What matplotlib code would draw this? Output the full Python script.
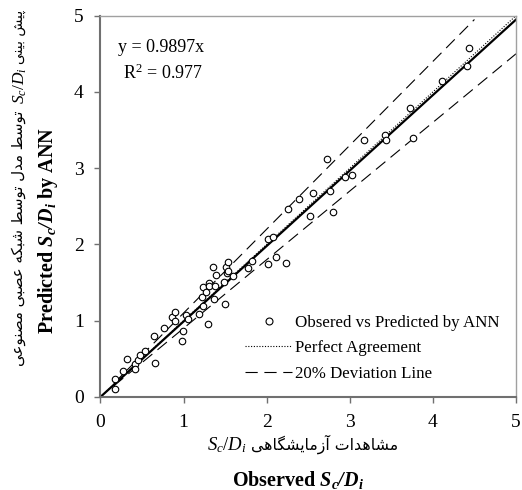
import matplotlib
matplotlib.use('Agg')
import matplotlib.pyplot as plt
from matplotlib.lines import Line2D

# observed vs predicted Sc/Di
observed = [0.17, 0.17, 0.27, 0.32, 0.41, 0.42, 0.45, 0.48, 0.53, 0.64, 0.65,
            0.77, 0.86, 0.90, 0.90, 0.98, 0.99, 1.03, 1.05, 1.19, 1.23, 1.22,
            1.23, 1.27, 1.29, 1.30, 1.31, 1.35, 1.37, 1.38, 1.39, 1.49, 1.50,
            1.51, 1.53, 1.52, 1.54, 1.59, 1.77, 1.82, 2.01, 2.01, 2.08, 2.11,
            2.23, 2.26, 2.39, 2.52, 2.56, 2.76, 2.80, 2.72, 2.94, 3.03, 3.17,
            3.42, 3.43, 3.72, 3.76, 4.11, 4.41, 4.43]
predicted = [0.24, 0.11, 0.34, 0.50, 0.43, 0.36, 0.49, 0.55, 0.60, 0.80, 0.45,
             0.91, 1.05, 1.11, 1.00, 0.73, 0.87, 1.08, 1.02, 1.09, 1.19, 1.31,
             1.44, 1.38, 0.95, 1.49, 1.45, 1.71, 1.28, 1.46, 1.60, 1.51, 1.22,
             1.71, 1.77, 1.63, 1.65, 1.58, 1.69, 1.78, 2.07, 1.74, 2.10, 1.83,
             1.76, 2.47, 2.59, 2.37, 2.67, 2.70, 2.42, 3.12, 2.89, 2.91, 3.37,
             3.44, 3.37, 3.79, 3.40, 4.14, 4.34, 4.58]

fit_slope = 0.9897
r_squared = 0.977
fit_range = [0, 5]
perfect_range = [0, 5]
upper_factor, upper_range = 1.1, [0.16, 4.5]
lower_factor, lower_range = 0.9, [0.16, 5.0]
ticks = [0, 1, 2, 3, 4, 5]

# contextual forms for the Persian letters used (isolated, final, initial, medial)
FORMS = {
    'ا': '\uFE8D\uFE8E', 'آ': '\uFE81\uFE82', 'د': '\uFEA9\uFEAA',
    'ز': '\uFEAF\uFEB0', 'و': '\uFEED\uFEEE',
    'ب': '\uFE8F\uFE90\uFE91\uFE92', 'پ': '\uFB56\uFB57\uFB58\uFB59',
    'ت': '\uFE95\uFE96\uFE97\uFE98', 'س': '\uFEB1\uFEB2\uFEB3\uFEB4',
    'ش': '\uFEB5\uFEB6\uFEB7\uFEB8', 'ص': '\uFEB9\uFEBA\uFEBB\uFEBC',
    'ط': '\uFEC1\uFEC2\uFEC3\uFEC4', 'ع': '\uFEC9\uFECA\uFECB\uFECC',
    'ک': '\uFB8E\uFB8F\uFB90\uFB91', 'گ': '\uFB92\uFB93\uFB94\uFB95',
    'ل': '\uFEDD\uFEDE\uFEDF\uFEE0', 'م': '\uFEE1\uFEE2\uFEE3\uFEE4',
    'ن': '\uFEE5\uFEE6\uFEE7\uFEE8', 'ه': '\uFEE9\uFEEA\uFEEB\uFEEC',
    'ی': '\uFBFC\uFBFD\uFBFE\uFBFF',
}


def farsi(text):
    out = []
    for i, ch in enumerate(text):
        f = FORMS.get(ch)
        if f is None:
            out.append(ch)
            continue
        prev = text[i - 1] if i > 0 else ''
        nxt = text[i + 1] if i + 1 < len(text) else ''
        joins_prev = prev in FORMS and len(FORMS[prev]) == 4
        joins_next = len(f) == 4 and nxt in FORMS
        out.append(f[int(joins_prev) + 2 * int(joins_next)])
    return ''.join(reversed(out))


plt.rcParams['font.family'] = ['Liberation Serif', 'DejaVu Sans']
plt.rcParams['mathtext.fontset'] = 'custom'
plt.rcParams['mathtext.rm'] = 'Liberation Serif'
plt.rcParams['mathtext.it'] = 'Liberation Serif:italic'
plt.rcParams['mathtext.bf'] = 'Liberation Serif:bold'
plt.rcParams['mathtext.bfit'] = 'Liberation Serif:italic:bold'

fig = plt.figure(figsize=(5.22, 4.9), dpi=100)
ax = fig.add_axes([0.1925, 0.19, 0.796, 0.778])

ax.plot(perfect_range, perfect_range, color='black', lw=0.8, ls=(0, (1, 1.5)))
ax.plot(fit_range, [fit_slope * v for v in fit_range], color='black', lw=1.6)
ax.plot(upper_range, [upper_factor * v for v in upper_range], color='black',
        lw=0.8, ls=(0, (11, 6)))
ax.plot(lower_range, [lower_factor * v for v in lower_range], color='black',
        lw=0.8, ls=(0, (11, 6)))
ax.scatter(observed, predicted, s=22, facecolors='white', edgecolors='black',
           linewidths=0.8, zorder=3)

ax.set_xlim(0, 5)
ax.set_ylim(0, 5)
ax.set_xticks(ticks)
ax.set_yticks(ticks)
ax.tick_params(direction='out', length=4, width=1, labelsize=14,
               color='#707070', pad=8)
for side in ['left', 'bottom']:
    ax.spines[side].set_color('#707070')
    ax.spines[side].set_linewidth(1.5)
for side in ['top', 'right']:
    ax.spines[side].set_color('#a0a0a0')
    ax.spines[side].set_linewidth(1.0)

ax.text(0.21, 4.58, 'y = %.4fx' % fit_slope, fontsize=13, va='center')
ax.text(0.27, 4.24, 'R$^{2}$ = %.3f' % r_squared, fontsize=13, va='center')

handles = [
    Line2D([], [], ls='none', marker='o', ms=5, mfc='white', mec='black', mew=0.8),
    Line2D([], [], color='black', lw=0.8, ls=(0, (1, 1.5))),
    Line2D([], [], color='black', lw=0.8, ls=(0, (11, 6))),
]
labels = ['Obsered vs Predicted by ANN', 'Perfect Agreement', '20% Deviation Line']
ax.legend(handles, labels, loc='lower right', bbox_to_anchor=(0.997, 0.0),
          frameon=False, fontsize=12.2, handlelength=2.8, handletextpad=0.15,
          labelspacing=0.55)

# y axis labels: Persian line (three pieces) plus English bold line
fig.text(0.036, 0.7735, farsi('توسط مدل توسط شبکه عصبی مصنوعی'),
         family='DejaVu Sans', fontsize=10.8, rotation=90, ha='center', va='top')
fig.text(0.038, 0.8255, '$S_c/D_i$', fontsize=12.5, rotation=90,
         ha='center', va='center')
fig.text(0.036, 0.98, farsi('پیش بینی'),
         family='DejaVu Sans', fontsize=10, rotation=90, ha='center', va='top')
fig.text(0.092, 0.529, r'Predicted $\mathbfit{S_c/D_i}$ by ANN', fontsize=14.5,
         fontweight='bold', rotation=90, ha='center', va='center')

# x axis labels
fig.text(0.473, 0.082, '$S_c/D_i$', fontsize=13.5, ha='right', va='baseline')
fig.text(0.481, 0.082, farsi('مشاهدات آزمایشگاهی'),
         family='DejaVu Sans', fontsize=11.3, ha='left', va='baseline')
fig.text(0.571, 0.020, r'Observed $\mathbfit{S_c/D_i}$', fontsize=14.5,
         fontweight='bold', ha='center', va='center')

fig.savefig('out.png', dpi=100)
